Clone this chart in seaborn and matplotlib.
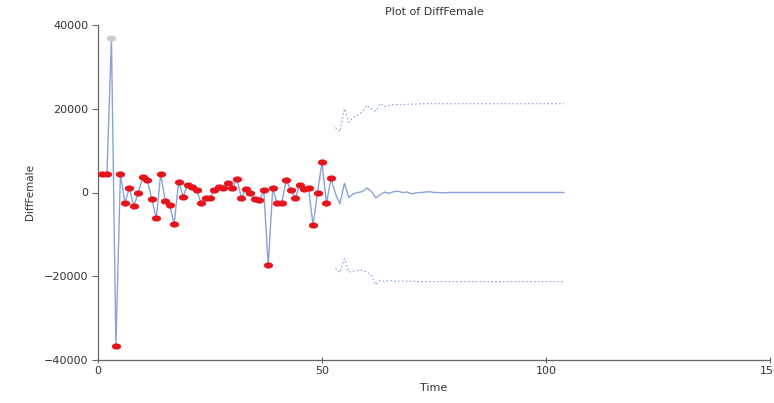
import matplotlib
matplotlib.use("Agg")
import matplotlib.pyplot as plt
import pandas as pd
import seaborn as sns
from matplotlib.markers import MarkerStyle
from matplotlib.transforms import Affine2D

# observed series (time 1..52), time 3 is flagged
obs_time = list(range(1, 53))
obs_values = [4500, 4500, 36800, -36700, 4300, -2400, 1000, -3300, 0, 3800,
              2900, -1500, -6200, 4500, -2100, -3100, -7500, 2600, -1000, 1900,
              1200, 500, -2400, -1400, -1200, 500, 1400, 1000, 2200, 1000,
              3200, -1200, 900, 0, -1500, -1900, 500, -17400, 1000, -2600,
              -2600, 2900, 700, -1400, 1800, 900, 1000, -7800, 0, 7200,
              -2600, 3400]
flagged_time = [3]

# forecast and limits (time 52..104)
fc_time = list(range(52, 105))
fc_values = [3400, -300, -2700, 2200, -1200, -300, 0, 200, 1100, 300,
             -1300, -500, 100, -200, 200, 300, 0, 100, -300, -100,
             0, 100, 200, 0, 0, -100, 0, 0, 0, 0,
             0, 0, 0, 0, 0, 0, 0, 0, 0, 0,
             0, 0, 0, 0, 0, 0, 0, 0, 0, 0,
             0, 0, 0]
band_time = list(range(53, 105))
upper_values = [15500, 14500, 20000, 16800, 18000, 18500, 19200, 20800, 20000, 19400,
                21200, 20500, 20800, 21000, 21000, 20900, 21100, 21100, 21100, 21200,
                21200, 21200, 21200, 21200, 21200, 21200, 21200, 21200, 21200, 21200,
                21200, 21200, 21200, 21200, 21200, 21200, 21200, 21200, 21200, 21200,
                21200, 21200, 21200, 21200, 21200, 21200, 21200, 21200, 21200, 21200,
                21200, 21200]
lower_values = [-18100, -19100, -15800, -19000, -18800, -18600, -18600, -19000, -19800, -22000,
                -21000, -21300, -21000, -21200, -21200, -21100, -21200, -21200, -21200, -21300,
                -21300, -21300, -21300, -21300, -21300, -21300, -21300, -21300, -21300, -21300,
                -21300, -21300, -21300, -21300, -21300, -21300, -21300, -21300, -21300, -21300,
                -21300, -21300, -21300, -21300, -21300, -21300, -21300, -21300, -21300, -21300,
                -21300, -21300]

obs = pd.DataFrame({"Time": obs_time, "DiffFemale": obs_values})
obs["flag"] = obs["Time"].isin(flagged_time)
fc = pd.DataFrame({"Time": fc_time, "DiffFemale": fc_values})
band = pd.DataFrame({"Time": band_time, "upper": upper_values, "lower": lower_values})

sns.set_style("white")
plt.rcParams["font.family"] = ["DejaVu Sans"]

line_col = "#8aa2d8"
fig = plt.figure(figsize=(7.74, 4.03), dpi=100)
ax = fig.add_axes([98 / 774, 1 - 360 / 403, 672 / 774, 335 / 403])

sns.lineplot(data=obs, x="Time", y="DiffFemale", color=line_col, lw=1.0, ax=ax)
sns.lineplot(data=fc, x="Time", y="DiffFemale", color=line_col, lw=1.0, ax=ax)
sns.lineplot(data=band, x="Time", y="upper", color=line_col, lw=0.8,
             linestyle=(0, (1.5, 2)), ax=ax)
sns.lineplot(data=band, x="Time", y="lower", color=line_col, lw=0.8,
             linestyle=(0, (1.5, 2)), ax=ax)

oval = MarkerStyle("o", transform=Affine2D().scale(1.5, 1.0))
sns.scatterplot(data=obs[~obs["flag"]], x="Time", y="DiffFemale", color="#e8141c",
                marker=oval, s=20, linewidth=0, ax=ax, zorder=3)
sns.scatterplot(data=obs[obs["flag"]], x="Time", y="DiffFemale", color="#cccccc",
                marker=oval, s=20, linewidth=0, ax=ax, zorder=3)

ax.set_xlim(0, 150)
ax.set_ylim(-40000, 40000)
ax.set_xticks([0, 50, 100, 150])
ax.set_yticks([-40000, -20000, 0, 20000, 40000])
for s in ["top", "right"]:
    ax.spines[s].set_visible(False)
for s in ["left", "bottom"]:
    ax.spines[s].set_color("#666666")
    ax.spines[s].set_linewidth(0.9)
ax.tick_params(axis="y", direction="out", length=4, width=0.8, color="#666666",
               labelsize=8, labelcolor="#333333", left=True, pad=3)
ax.tick_params(axis="x", direction="inout", length=5, width=0.8, color="#666666",
               labelsize=8, labelcolor="#333333", bottom=True, pad=2)
ax.set_xlabel("Time", fontsize=8, color="#333333", labelpad=5)
ax.set_ylabel("DiffFemale", fontsize=7.5, color="#333333", labelpad=6)
ax.set_title("Plot of DiffFemale", fontsize=8, color="#333333", pad=7)

fig.savefig("out.png", dpi=100)
